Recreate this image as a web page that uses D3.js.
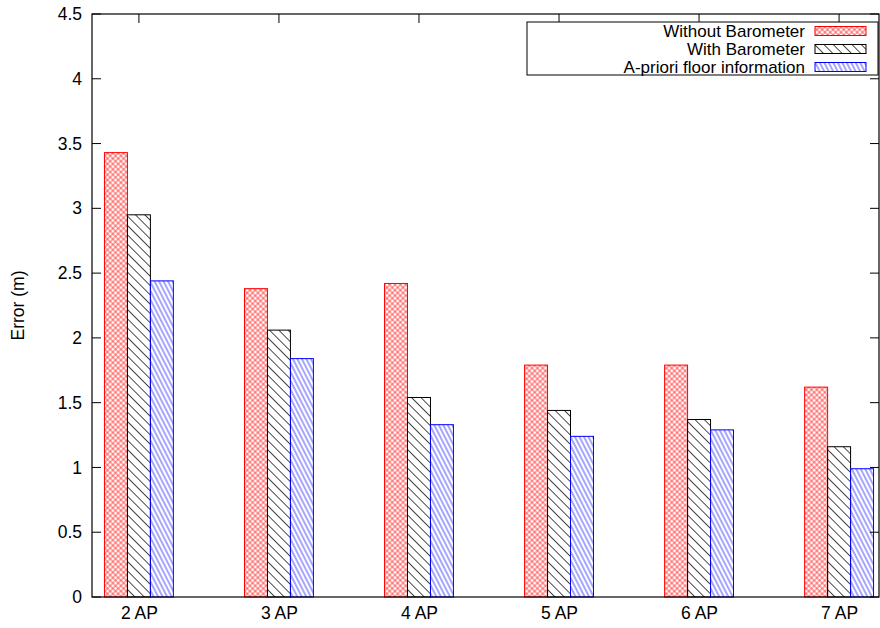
<!DOCTYPE html>
<meta charset="utf-8">
<title>Error by AP count</title>
<style>
  body { margin: 0; background: #fff; }
  text { font-family: "Liberation Sans", Arial, Helvetica, sans-serif; font-size: 17px; fill: #000; }
</style>
<body>
<script src="https://cdn.jsdelivr.net/npm/d3@7"></script>
<script>
// data
var categories = ["2 AP", "3 AP", "4 AP", "5 AP", "6 AP", "7 AP"];
var seriesNames = ["Without Barometer", "With Barometer", "A-priori floor information"];
var withoutBaro = [3.43, 2.38, 2.42, 1.79, 1.79, 1.62];
var withBaro    = [2.95, 2.06, 1.54, 1.44, 1.37, 1.16];
var apriori     = [2.44, 1.84, 1.33, 1.24, 1.29, 0.99];
var yTicks = [0, 0.5, 1, 1.5, 2, 2.5, 3, 3.5, 4, 4.5];

var series = [withoutBaro, withBaro, apriori];
var colors = ["#ff0000", "#000000", "#0000ff"];
var patterns = ["pcross", "pdiag", "psteep"];

var W = 880, H = 628;
// plot box (window.top is reserved, so use a margin object)
var box = {left: 92, right: 879, top: 14, bottom: 597};

var svg = d3.select("body").append("svg")
    .attr("width", W)
    .attr("height", H);

// hatch patterns
var defs = svg.append("defs");

function hatch(id, color, spacing, angle, cross, sw) {
  var p = defs.append("pattern")
      .attr("id", id)
      .attr("patternUnits", "userSpaceOnUse")
      .attr("width", spacing)
      .attr("height", spacing)
      .attr("patternTransform", "rotate(" + angle + ")");
  p.append("line")
      .attr("x1", spacing / 2).attr("y1", 0)
      .attr("x2", spacing / 2).attr("y2", spacing)
      .attr("stroke", color).attr("stroke-width", sw);
  if (cross) {
    p.append("line")
        .attr("x1", 0).attr("y1", spacing / 2)
        .attr("x2", spacing).attr("y2", spacing / 2)
        .attr("stroke", color).attr("stroke-width", sw);
  }
}
hatch("pcross", "#ff0000", 3.8, 45, true, 0.6);
hatch("pdiag", "#000000", 6.6, -45, false, 0.7);
hatch("psteep", "#0000ff", 4.0, -27, false, 0.7);

// scales
var x = d3.scaleLinear().domain([-0.335, 5.285]).range([box.left, box.right]);
var y = d3.scaleLinear().domain([0, 4.5]).range([box.bottom, box.top]);
var barW = 0.164;

// bars
series.forEach(function(vals, s) {
  svg.append("g").selectAll("rect")
      .data(vals)
      .enter().append("rect")
      .attr("x", function(d, i) { return x(i + (s - 1) * barW - barW / 2); })
      .attr("width", x(barW) - x(0))
      .attr("y", function(d) { return y(d); })
      .attr("height", function(d) { return y(0) - y(d); })
      .attr("fill", "url(#" + patterns[s] + ")")
      .attr("stroke", colors[s])
      .attr("stroke-width", 1);
});

// y axis, ticks inward and mirrored on the right
var yAxis = svg.append("g")
    .attr("transform", "translate(" + box.left + ",0)")
    .call(d3.axisLeft(y).tickValues(yTicks).tickSize(0).tickPadding(10)
      .tickFormat(d3.format("")));
yAxis.select(".domain").remove();
yAxis.selectAll("text").style("font-size", "17.5px");

var tickLen = 9;
svg.append("g").selectAll("line")
    .data(yTicks)
    .enter().append("line")
    .attr("x1", box.left).attr("x2", box.left + tickLen)
    .attr("y1", function(d) { return y(d); })
    .attr("y2", function(d) { return y(d); })
    .attr("stroke", "#000");
svg.append("g").selectAll("line")
    .data(yTicks)
    .enter().append("line")
    .attr("x1", box.right).attr("x2", box.right - tickLen)
    .attr("y1", function(d) { return y(d); })
    .attr("y2", function(d) { return y(d); })
    .attr("stroke", "#000");

// x axis
var xAxis = svg.append("g")
    .attr("transform", "translate(0," + box.bottom + ")")
    .call(d3.axisBottom(x).tickValues(d3.range(categories.length)).tickSize(0).tickPadding(7)
      .tickFormat(function(i) { return categories[i]; }));
xAxis.select(".domain").remove();
xAxis.selectAll("text").style("font-size", "17.5px").attr("dy", "0.85em");

svg.append("g").selectAll("line")
    .data(d3.range(categories.length))
    .enter().append("line")
    .attr("x1", function(d) { return x(d); })
    .attr("x2", function(d) { return x(d); })
    .attr("y1", box.top).attr("y2", box.top + tickLen)
    .attr("stroke", "#000");

// border
svg.append("rect")
    .attr("x", box.left).attr("y", box.top)
    .attr("width", box.right - box.left).attr("height", box.bottom - box.top)
    .attr("fill", "none")
    .attr("stroke", "#000")
    .attr("stroke-width", 1.2);

// y label
svg.append("text")
    .attr("transform", "translate(24," + ((box.top + box.bottom) / 2) + ") rotate(-90)")
    .attr("text-anchor", "middle")
    .style("font-size", "17.5px")
    .text("Error (m)");

// legend
var lg = svg.append("g");
lg.append("rect")
    .attr("x", 527).attr("y", 22)
    .attr("width", 351).attr("height", 53)
    .attr("fill", "#fff")
    .attr("stroke", "#000")
    .attr("stroke-width", 1);

seriesNames.forEach(function(name, s) {
  var cy = 31 + s * 18;
  lg.append("text")
      .attr("x", 805).attr("y", cy)
      .attr("dy", "0.35em")
      .attr("text-anchor", "end")
      .text(name);
  lg.append("rect")
      .attr("x", 815).attr("y", cy - 4.5)
      .attr("width", 51).attr("height", 9)
      .attr("fill", "url(#" + patterns[s] + ")")
      .attr("stroke", colors[s])
      .attr("stroke-width", 1);
});
</script>
</body>
